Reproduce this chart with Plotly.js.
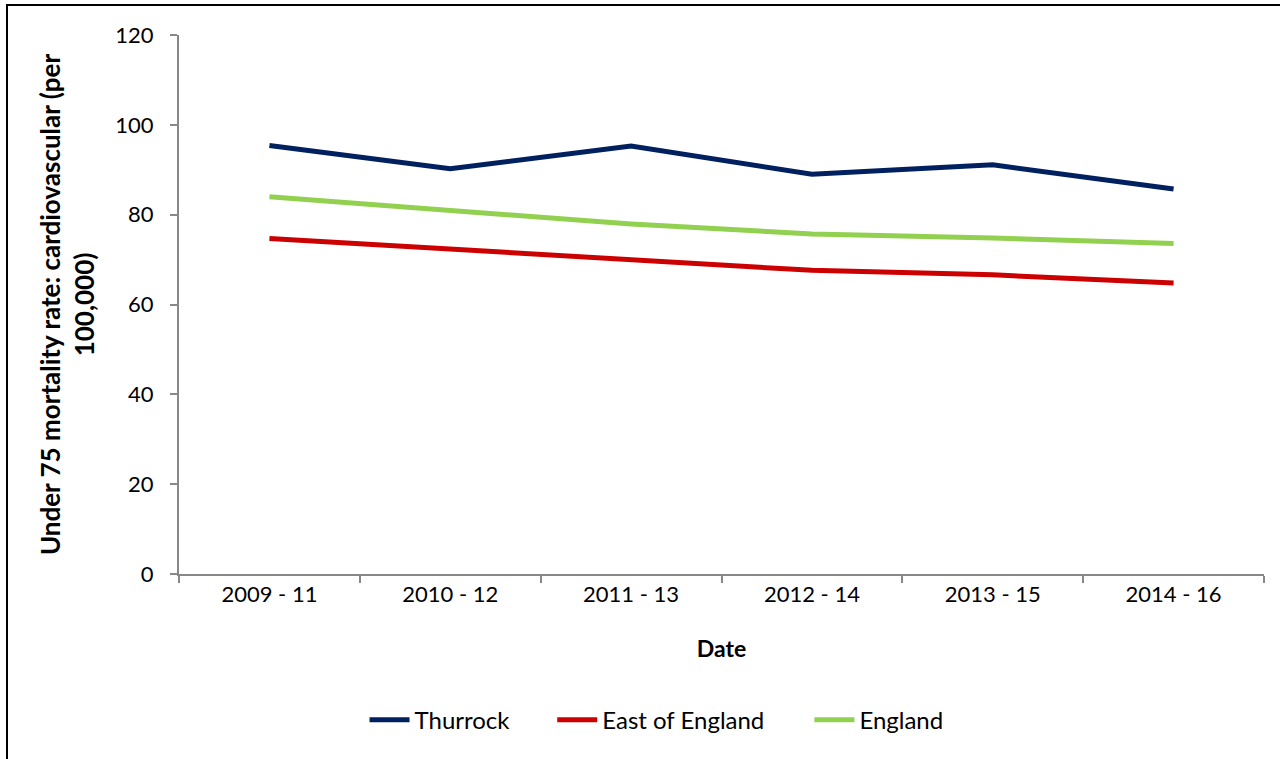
<!DOCTYPE html>
<html>
<head>
<meta charset="utf-8">
<script src="https://cdn.plot.ly/plotly-3.0.1.min.js"></script>
<style>
  html, body { margin: 0; padding: 0; background: #fff; }
  #chart { width: 1280px; height: 759px; }
  #frame { position: absolute; left: 6px; top: 4px; width: 1300px; height: 800px;
           border-left: 2.5px solid #000; border-top: 2.5px solid #000; pointer-events: none; }
</style>
</head>
<body>
<div id="chart"></div>
<div id="frame"></div>
<script>
const categories = ["2009 - 11", "2010 - 12", "2011 - 13", "2012 - 14", "2013 - 15", "2014 - 16"];
const thurrock = [95.4, 90.2, 95.3, 89.0, 91.1, 85.7];
const eastOfEngland = [74.7, 72.3, 69.8, 67.6, 66.6, 64.8];
const england = [84.0, 80.9, 77.9, 75.7, 74.8, 73.6];

const fontFamily = "Lato, 'Open Sans', sans-serif";

const traces = [
  { x: categories, y: thurrock, name: "Thurrock", type: "scatter", mode: "lines",
    line: { color: "#002060", width: 5 }, legend: "legend" },
  { x: categories, y: eastOfEngland, name: "East of England", type: "scatter", mode: "lines",
    line: { color: "#CC0000", width: 5 }, legend: "legend2" },
  { x: categories, y: england, name: "England", type: "scatter", mode: "lines",
    line: { color: "#92D050", width: 5 }, legend: "legend3" }
];

function legendAt(x) {
  return { orientation: "h", x: x, xanchor: "left", y: -0.271, yanchor: "middle",
           font: { size: 24 }, bgcolor: "rgba(0,0,0,0)", itemwidth: 40 };
}

const layout = {
  width: 1280, height: 759,
  paper_bgcolor: "#fff", plot_bgcolor: "#fff",
  font: { family: fontFamily, size: 22, color: "#000" },
  margin: { l: 179, r: 16, t: 35, b: 185 },
  showlegend: true,
  legend: legendAt(0.171),
  legend2: legendAt(0.344),
  legend3: legendAt(0.581),
  xaxis: {
    type: "category", range: [-0.5, 5.5],
    showline: true, linecolor: "#888", linewidth: 2,
    ticks: "outside", tickson: "boundaries", ticklen: 7, tickcolor: "#888", tickwidth: 2,
    showgrid: false, zeroline: false,
    tickfont: { size: 22 },
    title: { text: "<b>Date</b>", font: { size: 23 }, standoff: 34 }
  },
  yaxis: {
    range: [0, 120], dtick: 20, tick0: 0,
    showline: true, linecolor: "#888", linewidth: 2,
    ticks: "outside", ticklen: 7, tickcolor: "#888", tickwidth: 2,
    ticklabelstandoff: 12,
    showgrid: false, zeroline: false,
    tickfont: { size: 22 },
    title: { text: "<b>Under 75 mortality rate: cardiovascular (per<br>100,000)</b>", font: { size: 26 }, standoff: 13 }
  }
};

Plotly.newPlot("chart", traces, layout, { displayModeBar: false, staticPlot: true });
</script>
</body>
</html>
